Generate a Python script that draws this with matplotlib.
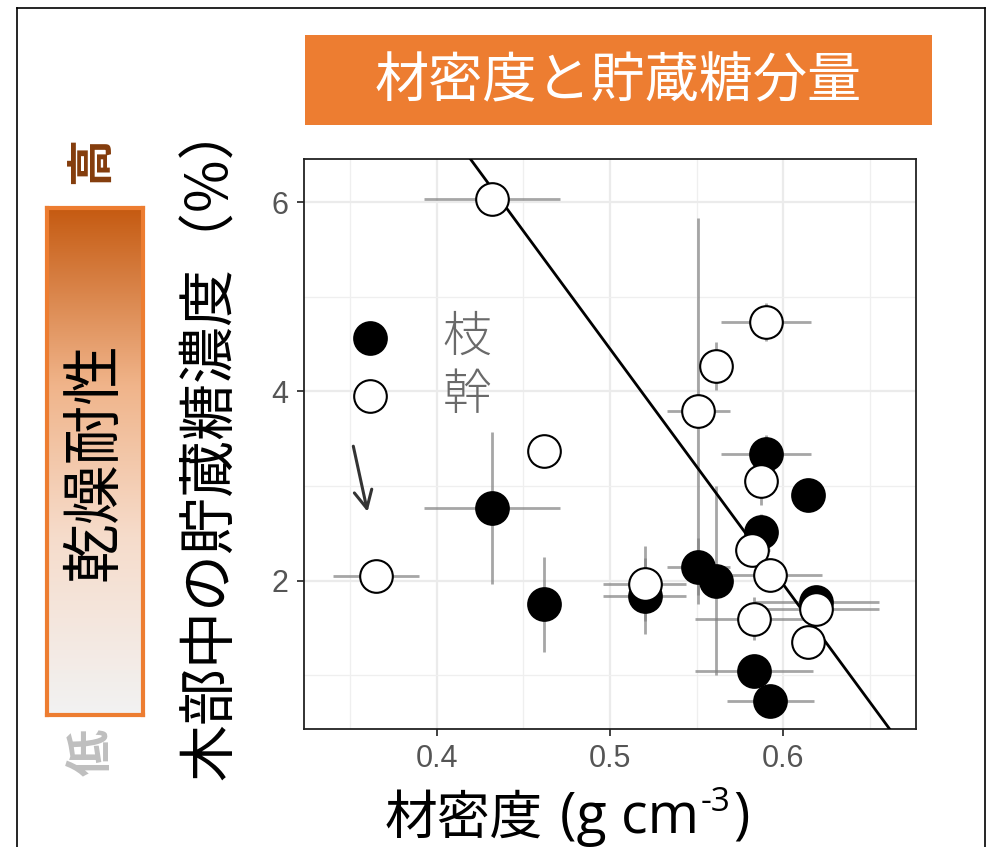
import matplotlib
matplotlib.use("Agg")
import matplotlib.pyplot as plt
import numpy as np
from matplotlib.patches import Rectangle
from matplotlib.colors import LinearSegmentedColormap
from matplotlib.lines import Line2D

plt.rcParams['font.family'] = ['Noto Sans CJK JP', 'DejaVu Sans']

# ---- data ----
branch_x = [0.432, 0.462, 0.520, 0.551, 0.561, 0.590, 0.614, 0.587, 0.619, 0.583, 0.5925]
branch_y = [2.77, 1.75, 1.84, 2.15, 2.00, 3.34, 2.91, 2.51, 1.78, 1.05, 0.73]
branch_xerr = [0.039, 0.0, 0.024, 0.018, 0.0, 0.026, 0.0, 0.0, 0.036, 0.034, 0.025]
branch_yerr = [0.80, 0.50, 0.40, 0.30, 1.00, 0.20, 0.0, 0.20, 0.0, 0.0, 0.0]

trunk_x = [0.432, 0.590, 0.561, 0.551, 0.462, 0.587, 0.582, 0.5925, 0.365, 0.520, 0.619, 0.583, 0.614]
trunk_y = [6.03, 4.73, 4.27, 3.79, 3.37, 3.05, 2.32, 2.06, 2.05, 1.97, 1.70, 1.60, 1.35]
trunk_xerr = [0.039, 0.026, 0.0, 0.018, 0.008, 0.0, 0.010, 0.030, 0.025, 0.024, 0.036, 0.034, 0.0]
trunk_yerr = [0.0, 0.20, 0.25, 2.04, 0.0, 0.25, 0.10, 0.10, 0.0, 0.40, 0.0, 0.23, 0.0]

fit_slope = -24.9
fit_intercept = 16.9

x_ticks = [0.4, 0.5, 0.6]
x_ticklabels = ['0.4', '0.5', '0.6']
y_ticks = [2, 4, 6]
y_ticklabels = ['2', '4', '6']

title = '材密度と貯蔵糖分量'
xlabel_cjk = '材密度'
xlabel_main = '(g cm'
xlabel_sup = '-3'
xlabel_end = ')'
ylabel = '木部中の貯蔵糖濃度（%）'
legend_labels = ['枝', '幹']

W, H = 989, 847
fig = plt.figure(figsize=(W / 100, H / 100), dpi=100)

def fx(px):
    return px / W

def fy(py):
    return 1 - py / H

# outer frame lines
fig.add_artist(Line2D([fx(17), fx(17)], [fy(8), 0], color='black', lw=1.2, transform=fig.transFigure))
fig.add_artist(Line2D([fx(17), fx(985)], [fy(8), fy(8)], color='black', lw=1.2, transform=fig.transFigure))
fig.add_artist(Line2D([fx(985), fx(985)], [fy(8), 0], color='black', lw=1.2, transform=fig.transFigure))

# title box
fig.add_artist(Rectangle((fx(305), fy(125)), fx(932) - fx(305), fy(35) - fy(125),
                         transform=fig.transFigure, facecolor='#ED7D31', edgecolor='none'))
fig.text(fx(618), fy(82), title, color='white', fontsize=39, ha='center', va='center')

# main axes
ax = fig.add_axes([fx(304), fy(729), fx(916) - fx(304), fy(159) - fy(729)])
ax.set_xlim(0.3235, 0.6765)
ax.set_ylim(0.434, 6.455)
ax.set_xticks(x_ticks)
ax.set_xticklabels(x_ticklabels)
ax.set_yticks(y_ticks)
ax.set_yticklabels(y_ticklabels)
ax.set_xticks([0.35, 0.45, 0.55, 0.65], minor=True)
ax.set_yticks([1, 3, 5], minor=True)
ax.grid(which='major', color='#EBEBEB', lw=1.6, zorder=0)
ax.grid(which='minor', color='#EFEFEF', lw=0.9, zorder=0)
ax.set_axisbelow(True)
ax.tick_params(which='minor', length=0)
ax.tick_params(which='major', length=5, width=1.3, color='#333333',
               labelsize=22, labelcolor='#555555', pad=6)
for lab in ax.get_xticklabels() + ax.get_yticklabels():
    lab.set_fontfamily(['Liberation Sans', 'DejaVu Sans'])
for sp in ax.spines.values():
    sp.set_color('#222222')
    sp.set_linewidth(1.3)

# white region behind legend (covers grid)
ax.add_patch(Rectangle((0.3245, 2.56), 0.455 - 0.3245, 5.24 - 2.56,
                       facecolor='white', edgecolor='none', zorder=0.5))

# error bars
ax.errorbar(branch_x, branch_y, xerr=branch_xerr, yerr=branch_yerr, fmt='none',
            ecolor='#808080', alpha=0.7, elinewidth=2, capsize=0, zorder=2)
ax.errorbar(trunk_x, trunk_y, xerr=trunk_xerr, yerr=trunk_yerr, fmt='none',
            ecolor='#808080', alpha=0.7, elinewidth=2, capsize=0, zorder=2)

# fit line
xl = np.array([0.30, 0.70])
ax.plot(xl, fit_slope * xl + fit_intercept, color='black', lw=2, zorder=3)

# points
MS = 23.5
ax.plot(branch_x, branch_y, 'o', ms=MS, mfc='black', mec='black', mew=1.5, zorder=4)
ax.plot(trunk_x, trunk_y, 'o', ms=MS, mfc='white', mec='black', mew=1.5, zorder=5)

# manual legend
ax.plot([0.3618], [4.56], 'o', ms=MS, mfc='black', mec='black', mew=1.5, zorder=4)
ax.plot([0.3618], [3.95], 'o', ms=MS, mfc='white', mec='black', mew=1.5, zorder=4)
ax.text(0.4175, 4.58, legend_labels[0], fontsize=35, color='#6A6A6A', ha='center', va='center',
        fontweight='light')
ax.text(0.4175, 3.96, legend_labels[1], fontsize=35, color='#6A6A6A', ha='center', va='center',
        fontweight='light')
ax.annotate('', xy=(0.3605, 2.70), xytext=(0.3516, 3.45),
            arrowprops=dict(arrowstyle='->', color='#333333', lw=2.2, mutation_scale=32))

# x label built from pieces (superscript)
fig.canvas.draw()
renderer = fig.canvas.get_renderer()
latin = ['Open Sans', 'Noto Sans CJK JP']
fig.text(fx(385), fy(818), xlabel_cjk, fontsize=38, ha='left', va='center')
t1 = fig.text(fx(560), fy(818), xlabel_main, fontsize=40, ha='left', va='center',
              fontfamily=latin)
bb = t1.get_window_extent(renderer)
t2 = fig.text(bb.x1 / W + fx(2), fy(802), xlabel_sup, fontsize=24, ha='left', va='center',
              fontfamily=latin)
bb2 = t2.get_window_extent(renderer)
fig.text(bb2.x1 / W + fx(2), fy(818), xlabel_end, fontsize=40, ha='left', va='center',
         fontfamily=latin)

fig.text(fx(211), fy(440), ylabel, rotation=90, fontsize=41, ha='center', va='center')

# gradient bar
cmap = LinearSegmentedColormap.from_list('grad', [(0, '#C55A11'), (0.35, '#F0B48A'),
                                                 (0.65, '#F6DCCB'), (1, '#F2F2F2')])
bax = fig.add_axes([fx(47), fy(715), fx(143) - fx(47), fy(208) - fy(715)])
grad = np.linspace(0, 1, 256).reshape(-1, 1)
bax.imshow(grad, aspect='auto', cmap=cmap, extent=[0, 1, 0, 1], origin='upper')
bax.set_xticks([])
bax.set_yticks([])
for sp in bax.spines.values():
    sp.set_color('#ED7D31')
    sp.set_linewidth(3)
bax.text(0.5, 0.5, '乾燥耐性', rotation=90, fontsize=43, ha='center', va='center',
         transform=bax.transAxes, color='black')

fig.text(fx(92), fy(160), '高', rotation=90, fontsize=34, fontweight='bold',
         color='#843C0C', ha='center', va='center')
fig.text(fx(92), fy(752), '低', rotation=90, fontsize=34, fontweight='bold',
         color='#BFBFBF', ha='center', va='center')

fig.savefig('out.png', dpi=100)
